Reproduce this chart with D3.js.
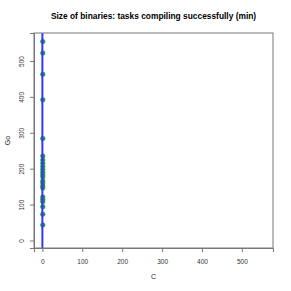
<!DOCTYPE html>
<html><head><meta charset="utf-8">
<script src="https://cdn.jsdelivr.net/npm/d3@7"></script>
<style>body{margin:0;background:#fff}svg{display:block}</style>
</head><body>
<script>
const title = "Size of binaries: tasks compiling successfully (min)";
const xLabel = "C";
const yLabel = "Go";
const cValues = [1,1,1,1,1,1,1,1,1,1,1,1,1,1,1,1,1,1,1,1,1,1,1];
const goValues = [554,522,463,392,284,235,224,215,206,198,190,183,177,166,160,152,146,121,114,108,94,73,43];
const xTicks = [0,100,200,300,400,500];
const yTicks = [0,100,200,300,400,500];
const refLineX = [0];

const W = 291, H = 291;
const m = {l:34, r:18, t:33, b:43};
const svg = d3.select("body").append("svg").attr("width",W).attr("height",H);
const x = d3.scaleLinear().domain([-21,578]).range([m.l, W-m.r]);
const y = d3.scaleLinear().domain([-21,578]).range([H-m.b, m.t]);
const font = "Liberation Sans, Arial, sans-serif";

svg.append("text").attr("x",(m.l+W-m.r)/2).attr("y",19).attr("text-anchor","middle")
  .attr("font-family",font).attr("font-size",8.4).attr("font-weight","bold").text(title);

// points
svg.append("g").selectAll("circle").data(goValues).join("circle")
  .attr("cx",(d,i)=>x(cValues[i])).attr("cy",d=>y(d)).attr("r",2.3)
  .attr("fill","#1e9a3c").attr("stroke","#1e8a36").attr("stroke-width",0.5);

// reference line
svg.append("g").selectAll("line").data(refLineX).join("line")
  .attr("x1",d=>x(d)).attr("x2",d=>x(d)).attr("y1",m.t).attr("y2",H-m.b)
  .attr("stroke","#3535ff").attr("stroke-width",2);

// box
svg.append("rect").attr("x",m.l).attr("y",m.t).attr("width",W-m.l-m.r).attr("height",H-m.t-m.b)
  .attr("fill","none").attr("stroke","#777").attr("stroke-width",1);

const gx = svg.append("g").attr("transform",`translate(0,${H-m.b})`)
  .call(d3.axisBottom(x).tickValues(xTicks).tickSize(4).tickPadding(7).tickFormat(d3.format("d")));
const gy = svg.append("g").attr("transform",`translate(${m.l},0)`)
  .call(d3.axisLeft(y).tickValues(yTicks).tickSize(4).tickPadding(5).tickFormat(d3.format("d")));
[gx,gy].forEach(g=>{
  g.select(".domain").attr("stroke","#777");
  g.selectAll(".tick line").attr("stroke","#777");
  g.selectAll("text").attr("font-family",font).attr("font-size",6.5).attr("fill","#333");
});
gy.selectAll(".tick text").attr("text-anchor","middle").attr("x",0).attr("y",0).attr("dy","0")
  .attr("transform","translate(-10,0) rotate(-90)");

svg.append("text").attr("x",(m.l+W-m.r)/2).attr("y",279).attr("text-anchor","middle")
  .attr("font-family",font).attr("font-size",7).attr("fill","#222").text(xLabel);
svg.append("text").attr("transform",`translate(10,${(m.t+H-m.b)/2}) rotate(-90)`).attr("text-anchor","middle")
  .attr("font-family",font).attr("font-size",7).attr("fill","#222").text(yLabel);
</script>
</body></html>
